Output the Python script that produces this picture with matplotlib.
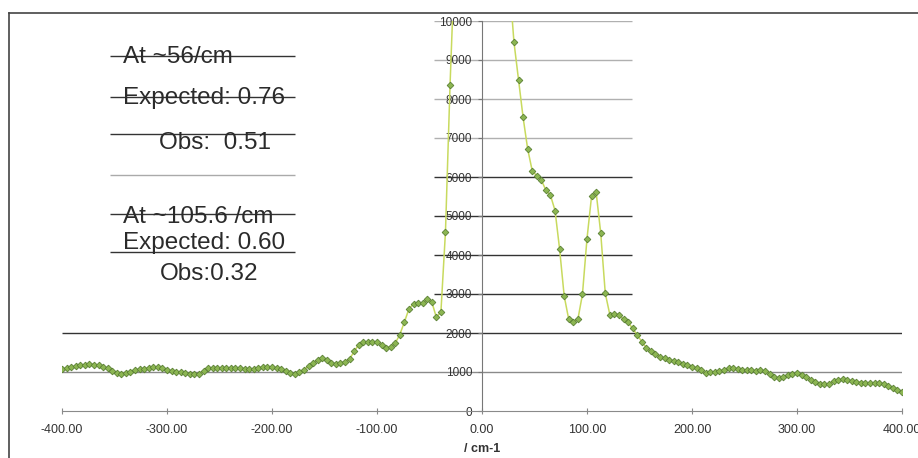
import numpy as np
import matplotlib
matplotlib.use('Agg')
import matplotlib.pyplot as plt
from matplotlib.lines import Line2D

plt.rcParams['font.family'] = ['Liberation Sans', 'DejaVu Sans']

# wavenumber grid (cm-1), 185 samples from -400 to 400
wavenumber = np.linspace(-400, 400, 185)

# intensity (peak top is clipped above 10000)
intensity = [
    1070, 1090, 1120, 1150, 1170, 1185, 1195, 1190, 1175, 1140,
    1090, 1030, 975, 960, 985, 1010, 1040, 1070, 1085, 1100,
    1120, 1130, 1090, 1050, 1030, 1010, 990, 970, 950, 940,
    960, 1020, 1090, 1100, 1100, 1095, 1100, 1090, 1095, 1090,
    1085, 1070, 1075, 1100, 1130, 1140, 1120, 1100, 1070, 1030,
    970, 950, 990, 1060, 1150, 1230, 1300, 1370, 1300, 1230,
    1210, 1230, 1260, 1330, 1530, 1700, 1760, 1780, 1780, 1760,
    1700, 1620, 1640, 1740, 1960, 2280, 2620, 2750, 2770, 2760,
    2860, 2800, 2400, 2540, 4600, 8360, 11500, 14000, 16000, 17500,
    18000, 18500, 18500, 18000, 17000, 15500, 14000, 12500, 11000, 9460,
    8500, 7530, 6720, 6160, 6030, 5920, 5660, 5530, 5140, 4150,
    2950, 2350, 2280, 2350, 2990, 4420, 5510, 5610, 4570, 3020,
    2470, 2490, 2470, 2350, 2270, 2120, 1950, 1780, 1620, 1530,
    1460, 1390, 1350, 1310, 1280, 1250, 1210, 1180, 1140, 1100,
    1040, 970, 990, 1010, 1030, 1050, 1090, 1100, 1080, 1060,
    1050, 1040, 1030, 1050, 1020, 960, 880, 850, 880, 920,
    950, 970, 930, 870, 800, 740, 690, 680, 700, 760,
    800, 815, 790, 760, 740, 730, 730, 720, 720, 710,
    700, 640, 590, 540, 500,
]

x_ticks = [-400, -300, -200, -100, 0, 100, 200, 300, 400]
y_ticks = [0, 1000, 2000, 3000, 4000, 5000, 6000, 7000, 8000, 9000, 10000]

# notes typed on the chart: (text, x, baseline y)
notes = [
    ('At ~56/cm', -341.5, 8920),
    ('Expected: 0.76', -341.5, 7870),
    ('Obs:  0.51', -308, 6720),
    ('At ~105.6 /cm', -341.5, 4820),
    ('Expected: 0.60', -341.5, 4150),
    ('Obs:0.32', -307, 3360),
]
# rule lines drawn across the notes: (y, colour)
note_rules = [(9100, '#333333'), (8050, '#333333'), (7100, '#333333'),
              (6050, '#aaaaaa'), (5050, '#333333'), (4080, '#333333')]

W, H = 918, 458
fig = plt.figure(figsize=(W / 100, H / 100), dpi=100)
ax = fig.add_axes([62 / W, (H - 411) / H, 840 / W, 390 / H])

# gridlines: short ones round the y axis, long ones for 1000/2000
for yv in y_ticks[3:]:
    col = '#333333' if yv <= 6000 else '#b0b0b0'
    ax.hlines(yv, -46, 143, color=col, lw=1.0, zorder=1)
ax.hlines(2000, -400, 400, color='#333333', lw=1.0, zorder=1)
ax.hlines(1000, -400, 400, color='#8a8a8a', lw=1.0, zorder=1)
for yv, col in note_rules:
    ax.hlines(yv, -354, -178, color=col, lw=1.0, zorder=1)

ax.plot(wavenumber, intensity, color='#c8da5e', lw=1.1, zorder=3,
        marker='D', markersize=3.4, markerfacecolor='#8cb652',
        markeredgecolor='#5a7f34', markeredgewidth=0.6)

for txt, xv, yv in notes:
    ax.text(xv, yv, txt, fontsize=17.5, color='#2b2b2b', ha='left', va='baseline')

ax.set_xlim(-400, 400)
ax.set_ylim(0, 10000)
ax.spines['top'].set_visible(False)
ax.spines['right'].set_visible(False)
ax.spines['left'].set_position(('data', 0))
ax.spines['left'].set_color('#777777')
ax.spines['bottom'].set_color('#8a8a8a')
ax.set_xticks(x_ticks)
ax.set_xticklabels([f'{v:.2f}' for v in x_ticks])
ax.set_yticks(y_ticks)
ax.set_yticklabels([str(v) for v in y_ticks])
ax.tick_params(axis='x', direction='inout', length=5, pad=7, labelsize=9,
               colors='#8a8a8a', labelcolor='#333333')
ax.tick_params(axis='y', direction='out', length=3, pad=4, labelsize=8.5,
               colors='#777777', labelcolor='#333333')

fig.text(482 / W, 1 - 449 / H, '/ cm-1', fontsize=9, fontweight='bold',
         color='#333333', ha='center', va='center')

# outer frame of the scanned chart (right and bottom edges are cut off)
fig.add_artist(Line2D([9 / W, 1], [1 - 13 / H, 1 - 13 / H], color='#444444', lw=1.2))
fig.add_artist(Line2D([9 / W, 9 / W], [0, 1 - 13 / H], color='#444444', lw=1.2))

fig.savefig('out.png', dpi=100)
